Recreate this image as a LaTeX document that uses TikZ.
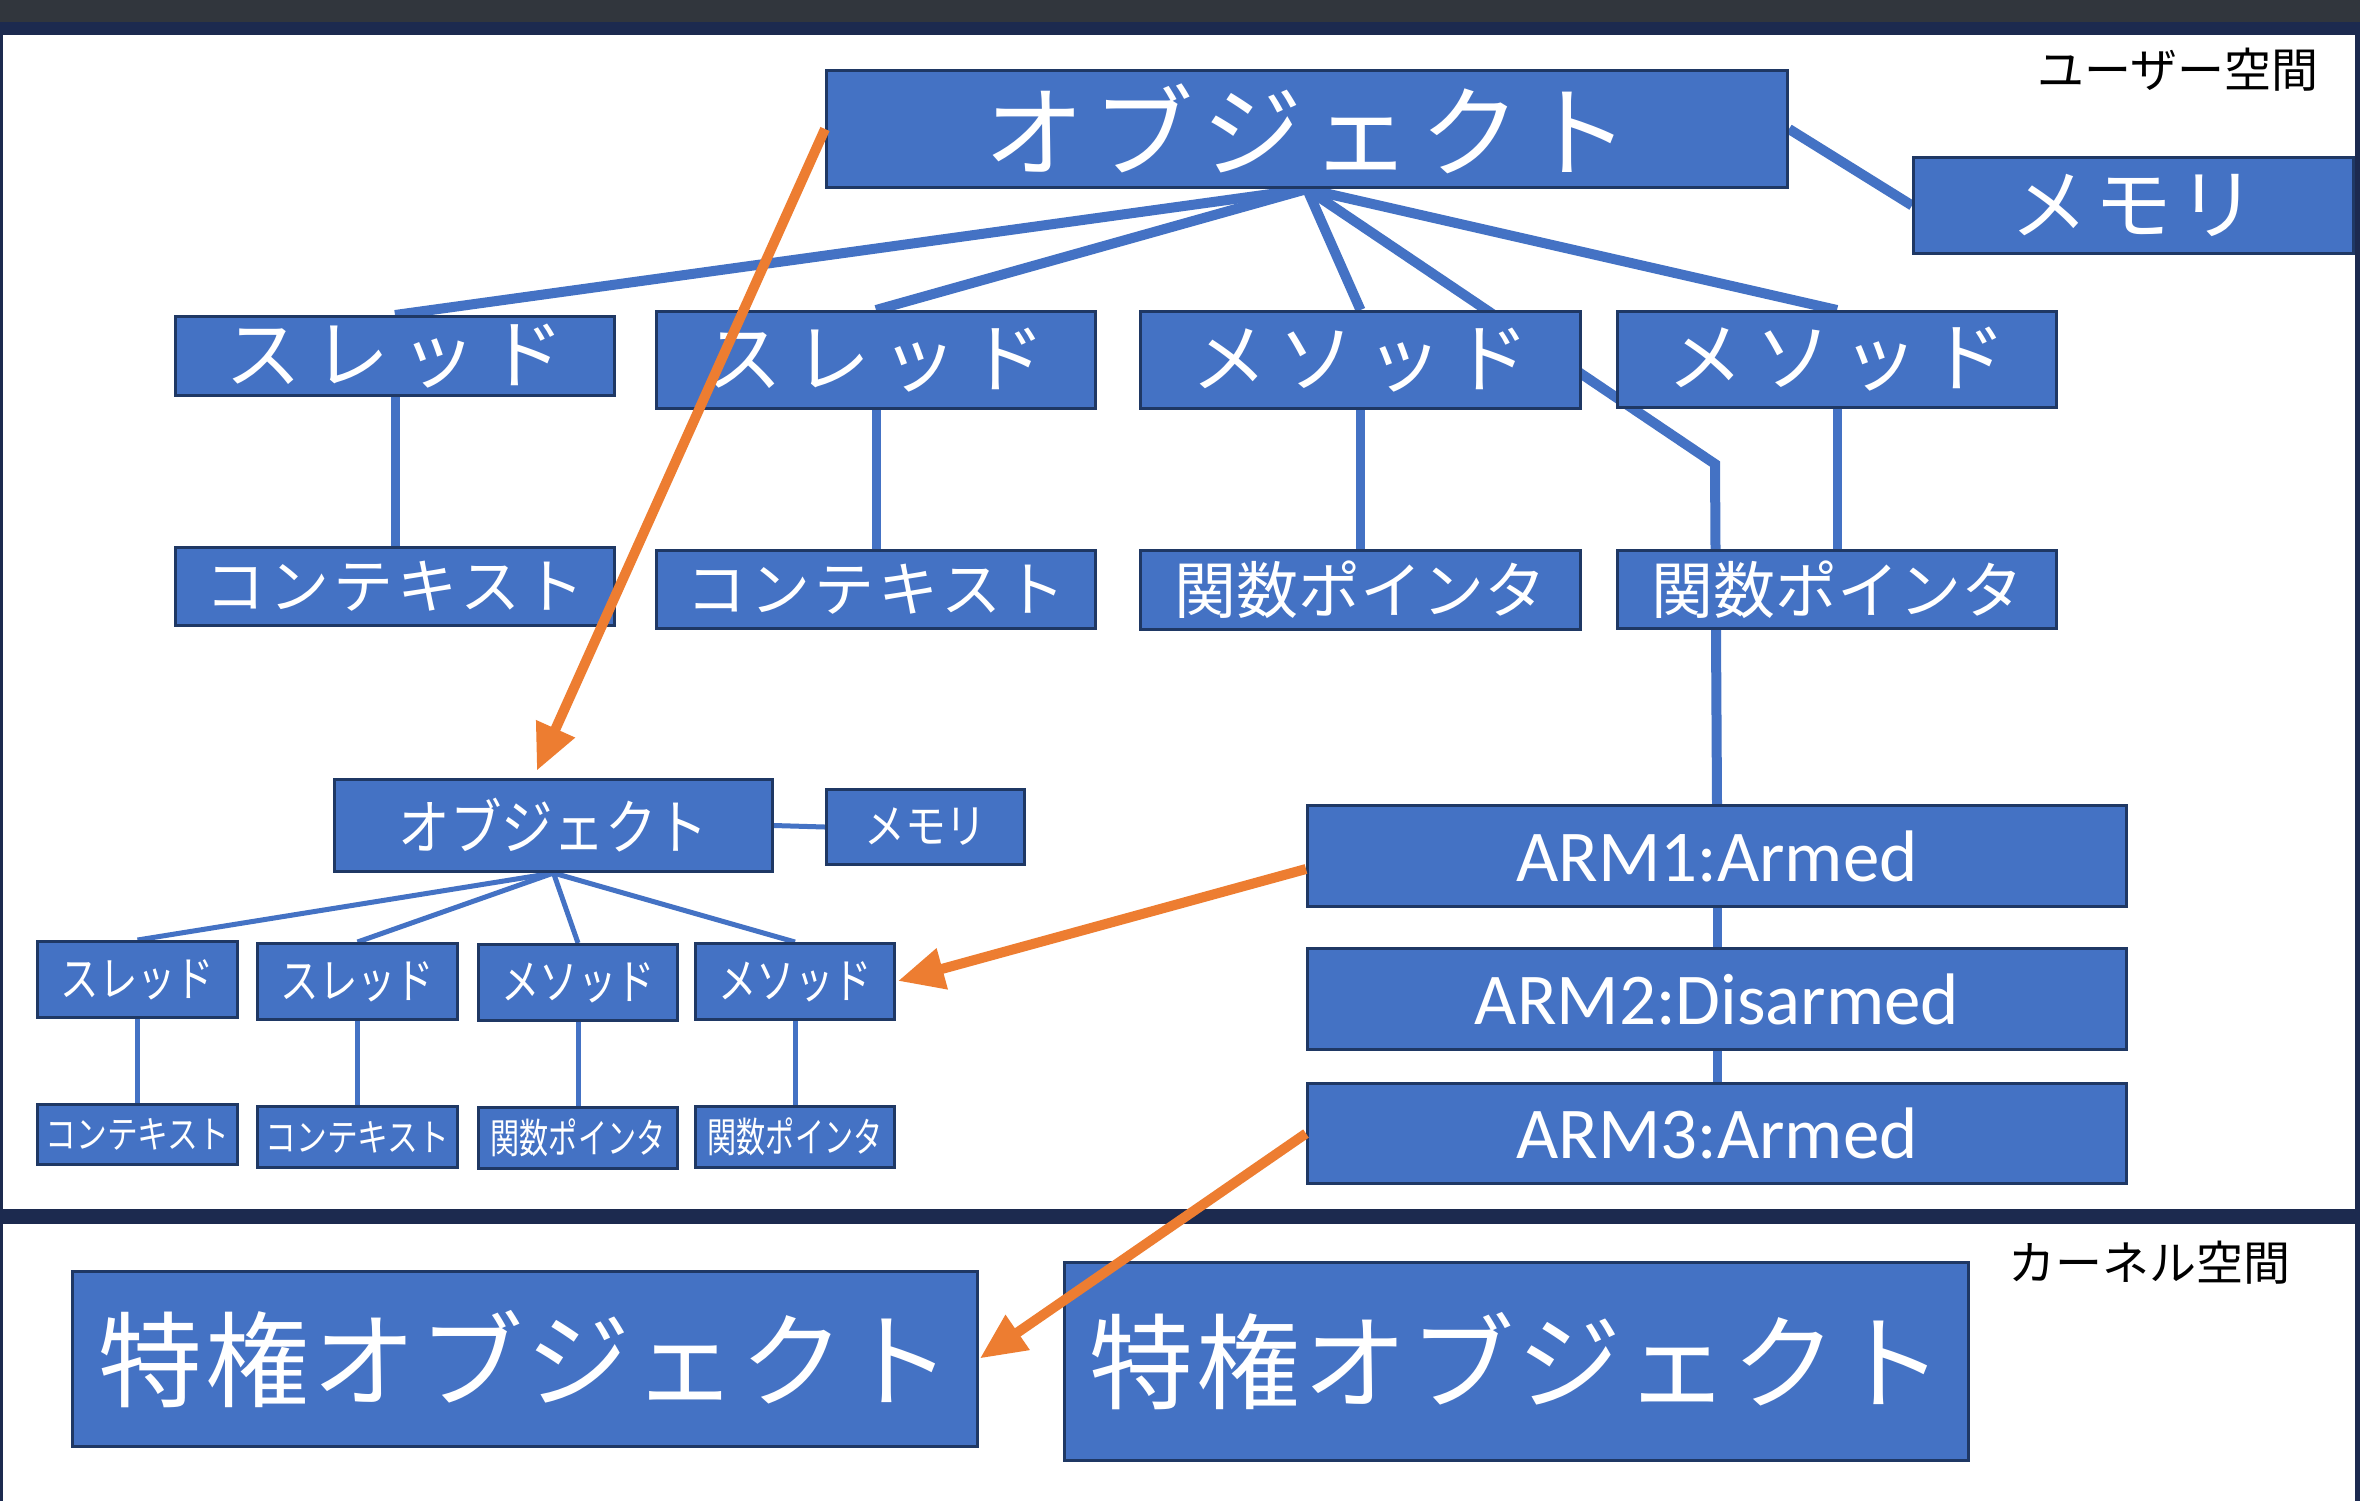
\documentclass[tikz,border=0pt]{standalone}
\usepackage{fontspec}
\setmainfont{Carlito}
\newfontfamily\jp{Noto Sans CJK JP}
\usetikzlibrary{arrows.meta}
\definecolor{boxblue}{HTML}{4472C4}
\definecolor{boxedge}{HTML}{1F3864}
\definecolor{orangeA}{HTML}{ED7D31}
\definecolor{navyband}{HTML}{1C2A4F}
\definecolor{topgray}{HTML}{31363D}
\pgfdeclarelayer{back}
\pgfdeclarelayer{bg}
\pgfsetlayers{back,bg,main}
% style, name, x1, y1, x2, y2 (pixel coordinates)
\newcommand\boxat[6]{\node[#1, anchor=north west, minimum width={(#5-#3)*0.5pt}, minimum height={(#6-#4)*0.5pt}] (#2) at (#3,#4)}
\newcommand\jpf[2]{\jp\fontsize{#1pt}{#1pt}\selectfont\addfontfeatures{LetterSpace=#2}}
\tikzset{
  objbox/.style={draw=boxedge, fill=boxblue, line width=1.5pt, inner sep=0pt, text=white},
  link/.style={draw=boxblue, line width=5pt},
  vlink/.style={draw=boxblue, line width=4.5pt},
  thinlink/.style={draw=boxblue, line width=2.5pt},
  orangearrow/.style={draw=orangeA, line width=5pt, -{Triangle[length=23pt,width=20pt]}},
  spacelabel/.style={text=black, font=\jpf{23.5}{0}},
  bigobj/.style={objbox, font=\jpf{50}{9}},
  memfont/.style={objbox, font=\jpf{39}{8}},
  rowtwo/.style={objbox, font=\jpf{38}{15}},
  ctxfont/.style={objbox, font=\jpf{30}{7}},
  funcfont/.style={objbox, font=\jpf{31}{0}},
  smallobj/.style={objbox, font=\jpf{30}{0}},
  smallmem/.style={objbox, font=\jpf{23.5}{0}},
  smallrow/.style={objbox, font=\jpf{24}{0}},
  smallctx/.style={objbox, font=\jpf{19}{0}},
  smallfunc/.style={objbox, font=\jpf{20.5}{0}},
  armbox/.style={objbox, font=\fontsize{36.5pt}{36.5pt}\selectfont},
  kernelbox/.style={objbox, font=\jpf{52}{3}},
}
\begin{document}
\begin{tikzpicture}[x=0.5pt, y=-0.5pt]
\useasboundingbox (0,0) rectangle (2360,1501);
% panels
\begin{pgfonlayer}{back}
\fill[white] (0,0) rectangle (2360,1501);
\fill[topgray] (0,0) rectangle (2360,22);
\fill[navyband] (0,22) rectangle (2360,35);
\fill[navyband] (0,35) rectangle (3,1501);
\fill[navyband] (2355,35) rectangle (2360,1501);
\fill[navyband] (0,1209) rectangle (2360,1224);
\end{pgfonlayer}

\node[spacelabel] (userlbl) at (2178,70) {ユーザー空間};
\node[spacelabel] (kernlbl) at (2149,1263) {カーネル空間};

% upper tree
\boxat{bigobj}{main}{825}{69}{1786}{186} {オブジェクト};
\boxat{memfont}{mem}{1912}{156}{2352}{252} {メモリ};
\boxat{rowtwo}{thr1}{174}{315}{613}{394} {スレッド};
\boxat{rowtwo}{thr2}{655}{310}{1094}{407} {スレッド};
\boxat{rowtwo}{meth3}{1139}{310}{1579}{407} {メソッド};
\boxat{rowtwo}{meth4}{1616}{310}{2055}{406} {メソッド};
\boxat{ctxfont}{ctx1}{174}{546}{613}{624} {コンテキスト};
\boxat{ctxfont}{ctx2}{655}{549}{1094}{627} {コンテキスト};
\boxat{funcfont}{func3}{1139}{549}{1579}{628} {関数ポインタ};
\boxat{funcfont}{func4}{1616}{549}{2055}{627} {関数ポインタ};

% lower (copied) tree
\boxat{smallobj}{sobj}{333}{778}{771}{870} {\scalebox{0.86}[1]{オブジェクト}};
\boxat{smallmem}{smem}{825}{788}{1023}{863} {\scalebox{0.87}[1]{メモリ}};
\boxat{smallrow}{sthr1}{36}{940}{236}{1016} {\scalebox{0.8}[1]{スレッド}};
\boxat{smallrow}{sthr2}{256}{942}{456}{1018} {\scalebox{0.8}[1]{スレッド}};
\boxat{smallrow}{smeth3}{477}{943}{676}{1019} {\scalebox{0.8}[1]{メソッド}};
\boxat{smallrow}{smeth4}{694}{942}{893}{1018} {\scalebox{0.8}[1]{メソッド}};
\boxat{smallctx}{sctx1}{36}{1103}{236}{1163} {\scalebox{0.81}[1]{コンテキスト}};
\boxat{smallctx}{sctx2}{256}{1105}{456}{1166} {\scalebox{0.81}[1]{コンテキスト}};
\boxat{smallfunc}{sfunc3}{477}{1106}{676}{1167} {\scalebox{0.71}[1]{関数ポインタ}};
\boxat{smallfunc}{sfunc4}{694}{1105}{893}{1166} {\scalebox{0.71}[1]{関数ポインタ}};

% ARM boxes
\boxat{armbox}{arm1}{1306}{804}{2125}{905} {ARM1:Armed};
\boxat{armbox}{arm2}{1306}{947}{2125}{1048} {ARM2:Disarmed};
\boxat{armbox}{arm3}{1306}{1082}{2125}{1182} {ARM3:Armed};

% kernel objects
\boxat{kernelbox}{kern1}{71}{1270}{976}{1445} {特権オブジェクト};
\boxat{kernelbox}{kern2}{1063}{1261}{1967}{1459} {特権オブジェクト};

\coordinate (armbend) at (1715,464);

\begin{pgfonlayer}{bg}
  \draw[link] (main.east) -- (mem.west);
  \draw[link] (main.south) -- (thr1.north);
  \draw[link] (main.south) -- (thr2.north);
  \draw[link] (main.south) -- (meth3.north);
  \draw[link] (main.south) -- (meth4.north);
  \draw[link] (main.south) -- (armbend) -- (arm1.north);
  \draw[vlink] (thr1.south) -- (ctx1.north);
  \draw[vlink] (thr2.south) -- (ctx2.north);
  \draw[vlink] (meth3.south) -- (func3.north);
  \draw[vlink] (meth4.south) -- (func4.north);
  \draw[vlink] (arm1.south) -- (arm2.north);
  \draw[vlink] (arm2.south) -- (arm3.north);
  \draw[thinlink] (sobj.east) -- (smem.west);
  \draw[thinlink] (sobj.south) -- (sthr1.north);
  \draw[thinlink] (sobj.south) -- (sthr2.north);
  \draw[thinlink] (sobj.south) -- (smeth3.north);
  \draw[thinlink] (sobj.south) -- (smeth4.north);
  \draw[thinlink] (sthr1.south) -- (sctx1.north);
  \draw[thinlink] (sthr2.south) -- (sctx2.north);
  \draw[thinlink] (smeth3.south) -- (sfunc3.north);
  \draw[thinlink] (smeth4.south) -- (sfunc4.north);
\end{pgfonlayer}

% orange arrows
\draw[orangearrow, shorten >=4pt] (main.west) -- ([xshift=-10pt]sobj.north);
\draw[orangearrow, shorten >=1pt] ([yshift=-6.5pt]arm1.west) -- (smeth4.east);
\draw[orangearrow, shorten >=0.5pt] (arm3.west) -- (kern1.east);
\end{tikzpicture}
\end{document}
